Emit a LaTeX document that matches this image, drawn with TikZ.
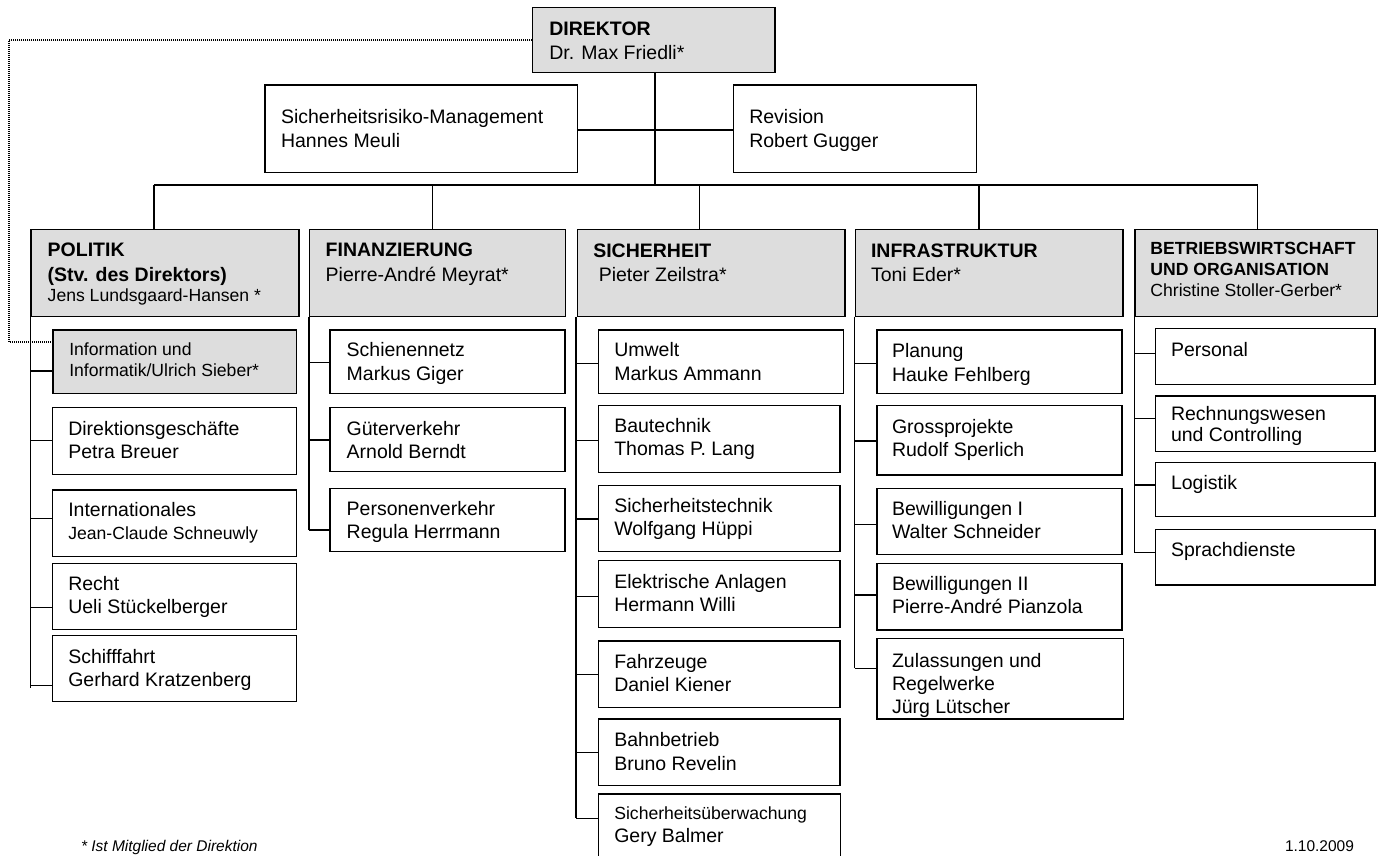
\documentclass[tikz,border=0pt]{standalone}
\usepackage{fontspec}
\setmainfont{Liberation Sans}
\definecolor{boxgray}{HTML}{DDDDDD}
\newcommand\RG{\fontsize{19.5}{23.3}\selectfont}
\newcommand\SM{\fontsize{17.6}{21.7}\selectfont}
\newcommand\BX[6][box]{\node[#1,minimum width={(#5)-(#3)},minimum height={(#6)-(#4)}] (#2) at (#3,#4) {};}
\newcommand\TX[4]{\node[txt] (#1) at (#2,#3) {\parbox[t]{320pt}{\raggedright #4}};}
\newcommand\TK[3]{\draw[conn] (#1 |- 0,#3) -- (#2.west |- 0,#3);}
\begin{document}
\begin{tikzpicture}[x=1pt,y=-1pt,
 box/.style={draw=black,line width=1.4pt,fill=white,anchor=north west,inner sep=0pt,outer sep=0pt},
 gbox/.style={box,fill=boxgray},
 txt/.style={anchor=base west,inner sep=0pt,outer sep=0pt},
 conn/.style={draw=black,line width=1.1pt},
 dotline/.style={draw=black,line width=1.8pt,dash pattern=on 1pt off 1pt}]
\useasboundingbox (0,0) rectangle (1383,856);
\fill[white] (0,0) rectangle (1383,856);

% top level
\BX[gbox]{dir}{532.3}{7.3}{775}{72.3}
\TX{dirt}{549.3}{36}{\fontsize{19.5}{23.3}\selectfont\bfseries DIREKTOR\par\mdseries Dr. Max Friedli*}
\BX{sr}{265}{85}{577.3}{172.3}
\TX{srt}{281}{124}{\RG Sicherheitsrisiko-Management\par Hannes Meuli}
\BX{rev}{733.3}{85}{976.3}{172.3}
\TX{revt}{749.3}{124}{\RG Revision\par Robert Gugger}

% headers
\BX[gbox]{pol}{31}{229.3}{299}{316.7}
\TX{polt}{47.7}{256.7}{\fontsize{19.5}{24.3}\selectfont\bfseries POLITIK\par (Stv. des Direktors)\par\mdseries\fontsize{17.6}{20.7}\selectfont Jens Lundsgaard-Hansen *}
\BX[gbox]{fin}{309.3}{229.3}{565.7}{316.7}
\TX{fint}{325.7}{256.7}{\fontsize{19.5}{24.3}\selectfont\bfseries FINANZIERUNG\par\mdseries Pierre-André Meyrat*}
\BX[gbox]{sic}{577.3}{229.3}{845}{316.7}
\TX{sict}{593.3}{257}{\fontsize{19.5}{24}\selectfont\bfseries SICHERHEIT\par\mdseries\hspace*{5.5pt}Pieter Zeilstra*}
\BX[gbox]{inf}{855.3}{229.3}{1123}{316.7}
\TX{inft}{871}{257}{\fontsize{19.5}{24}\selectfont\bfseries INFRASTRUKTUR\par\mdseries Toni Eder*}
\BX[gbox]{bet}{1135}{229.3}{1377.7}{316.7}
\TX{bett}{1150.4}{254.3}{\fontsize{17.6}{20.7}\selectfont\bfseries BETRIEBSWIRTSCHAFT\par UND ORGANISATION\par\mdseries\fontsize{17.6}{21.7}\selectfont Christine Stoller-Gerber*}

% Politik column
\BX[gbox]{p1}{53}{330}{296.7}{393.3}
\TX{p1t}{69.3}{355}{\SM Information und\par Informatik/Ulrich Sieber*}
\BX{p2}{52.3}{407.7}{296.7}{474.3}
\TX{p2t}{68.3}{435}{\RG Direktionsgeschäfte\par Petra Breuer}
\BX{p3}{52.3}{490}{296.7}{556.7}
\TX{p3t}{68.3}{516.7}{\RG Internationales\par\fontsize{17.6}{22.6}\selectfont Jean-Claude Schneuwly}
\BX{p4}{52.3}{563.3}{296.7}{629.7}
\TX{p4t}{68.3}{590}{\RG Recht\par Ueli Stückelberger}
\BX{p5}{52.3}{635.7}{296.7}{701.7}
\TX{p5t}{68.3}{663.3}{\RG Schifffahrt\par Gerhard Kratzenberg}

% Finanzierung column
\BX{f1}{330}{330}{565}{393.3}
\TX{f1t}{346.7}{356.7}{\RG Schienennetz\par Markus Giger}
\BX{f2}{330}{407.7}{565}{471.7}
\TX{f2t}{346.7}{435}{\RG Güterverkehr\par Arnold Berndt}
\BX{f3}{330}{488.3}{565}{551.7}
\TX{f3t}{346.7}{515}{\RG Personenverkehr\par Regula Herrmann}

% Sicherheit column
\BX{s1}{598.3}{330}{843.3}{393.3}
\TX{s1t}{614.3}{356.7}{\RG Umwelt\par Markus Ammann}
\BX{s2}{598.3}{405.7}{840}{472.3}
\TX{s2t}{614.3}{432.3}{\RG Bautechnik\par Thomas P. Lang}
\BX{s3}{598.3}{485.7}{840}{551.7}
\TX{s3t}{614.3}{512.3}{\RG Sicherheitstechnik\par Wolfgang Hüppi}
\BX{s4}{598.3}{560.7}{840}{627.7}
\TX{s4t}{614.3}{588.3}{\RG Elektrische Anlagen\par Hermann Willi}
\BX{s5}{598.3}{641}{840}{707.7}
\TX{s5t}{614.3}{668.3}{\RG Fahrzeuge\par Daniel Kiener}
\BX{s6}{598.3}{719}{840}{785.7}
\TX{s6t}{614.3}{746.7}{\RG Bahnbetrieb\par Bruno Revelin}
\BX{s7}{598.3}{794}{840.7}{862}
\TX{s7t}{614.3}{819}{\SM Sicherheitsüberwachung\par\fontsize{19.5}{23.7}\selectfont Gery Balmer}

% Infrastruktur column
\BX{i1}{877}{330}{1122}{393.3}
\TX{i1t}{892}{357.7}{\RG Planung\par Hauke Fehlberg}
\BX{i2}{877}{405.7}{1122}{475}
\TX{i2t}{892}{433.3}{\RG Grossprojekte\par Rudolf Sperlich}
\BX{i3}{877}{488.3}{1122}{554.3}
\TX{i3t}{892}{515}{\RG Bewilligungen I\par Walter Schneider}
\BX{i4}{877}{563.3}{1122}{630}
\TX{i4t}{892}{590}{\RG Bewilligungen II\par Pierre-André Pianzola}
\BX{i5}{877}{638.3}{1123.3}{719}
\TX{i5t}{892}{667.3}{\RG Zulassungen und\par Regelwerke\par Jürg Lütscher}

% Betriebswirtschaft column
\BX{b1}{1155.6}{328.3}{1375}{384.3}
\TX{b1t}{1171}{356}{\RG Personal}
\BX{b2}{1155.6}{396}{1375}{451.7}
\TX{b2t}{1171}{420}{\fontsize{19.5}{21.7}\selectfont Rechnungswesen\par und Controlling}
\BX{b3}{1155.6}{462.7}{1375}{516.7}
\TX{b3t}{1171}{489.3}{\RG Logistik}
\BX{b4}{1155.6}{529.3}{1375}{585}
\TX{b4t}{1171}{556.7}{\RG Sprachdienste}

% connectors top
\coordinate (bm) at (655,185);
\coordinate (bl) at (154,185);
\coordinate (br) at (1257.7,185);
\coordinate (d2) at (432.7,185);
\coordinate (d3) at (699.3,185);
\coordinate (d4) at (979,185);
\draw[conn] (bm |- dir.south) -- (bm);
\draw[conn] (sr.east |- 0,130) -- (rev.west |- 0,130);
\draw[conn] (bl) -- (br);
\draw[conn] (bl) -- (bl |- pol.north);
\draw[conn] (d2) -- (d2 |- fin.north);
\draw[conn] (d3) -- (d3 |- sic.north);
\draw[conn] (d4) -- (d4 |- inf.north);
\draw[conn] (br) -- (br |- bet.north);

% spines and ticks
\coordinate (vp) at (30.7,688.3);
\draw[conn] (vp |- pol.south) -- (vp);
\TK{vp}{p1}{371} \TK{vp}{p2}{440.7} \TK{vp}{p3}{518.3} \TK{vp}{p4}{607.7} \TK{vp}{p5}{685.7}
\coordinate (vf) at (309,530);
\draw[conn] (vf |- fin.south) -- (vf);
\TK{vf}{f1}{362.7} \TK{vf}{f2}{440} \TK{vf}{f3}{530}
\coordinate (vs) at (576,818.3);
\draw[conn] (vs |- sic.south) -- (vs);
\TK{vs}{s1}{363.3} \TK{vs}{s2}{440.7} \TK{vs}{s3}{519} \TK{vs}{s4}{596.7} \TK{vs}{s5}{674.3} \TK{vs}{s6}{752.3} \TK{vs}{s7}{818.3}
\coordinate (vi) at (854.5,668.3);
\draw[conn] (vi |- inf.south) -- (vi);
\TK{vi}{i1}{363.3} \TK{vi}{i2}{441} \TK{vi}{i3}{524.3} \TK{vi}{i4}{595} \TK{vi}{i5}{668.3}
\coordinate (vb) at (1134.5,552.7);
\draw[conn] (vb |- bet.south) -- (vb);
\TK{vb}{b1}{353.3} \TK{vb}{b2}{418.3} \TK{vb}{b3}{485} \TK{vb}{b4}{552.7}

% dotted line
\coordinate (dt) at (9,40);
\coordinate (db) at (9,341.7);
\draw[dotline] (dir.west) -- (dir.west -| dt) -- (db) -- (p1.west |- db);

% footer
\node[txt] (note) at (81,851.7) {\fontsize{15.5}{18}\selectfont\itshape * Ist Mitglied der Direktion};
\node[txt] (date) at (1285,851.7) {\fontsize{15.5}{18}\selectfont 1.10.2009};
\end{tikzpicture}
\end{document}
